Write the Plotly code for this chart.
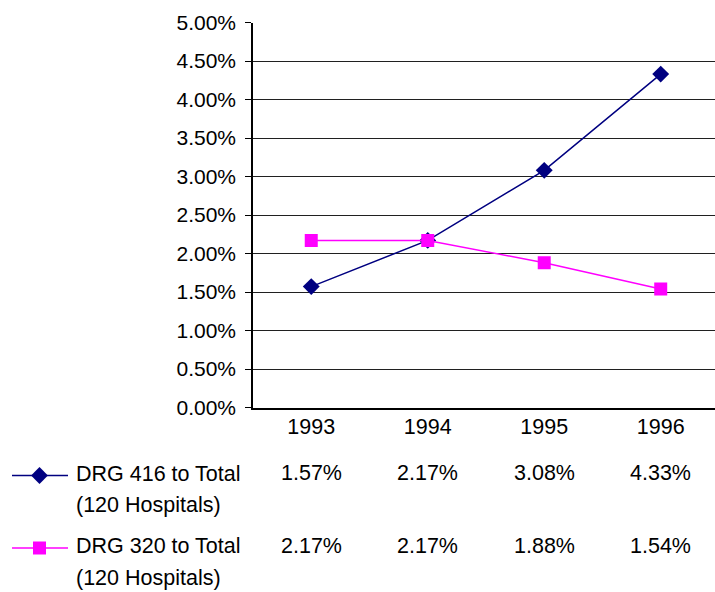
import plotly.graph_objects as go

# Chart data
years = ["1993", "1994", "1995", "1996"]
drg416 = [0.0157, 0.0217, 0.0308, 0.0433]
drg320 = [0.0217, 0.0217, 0.0188, 0.0154]
series_names = [["DRG 416 to Total", "(120 Hospitals)"],
                ["DRG 320 to Total", "(120 Hospitals)"]]
y_ticks = [0.0, 0.005, 0.01, 0.015, 0.02, 0.025, 0.03, 0.035, 0.04, 0.045, 0.05]

W, H = 715, 592
FONT = "Liberation Sans, Arial, sans-serif"
NAVY = "#000080"
MAGENTA = "#FF00FF"

def py(pixel_y):
    """Convert a pixel row (from the top) to paper y."""
    return 1 - pixel_y / H

xs = list(range(len(years)))

fig = go.Figure()

fig.add_trace(go.Scatter(
    x=xs, y=drg416, mode="lines+markers",
    line=dict(color=NAVY, width=1.5),
    marker=dict(symbol="diamond", size=13, color=NAVY),
    showlegend=False, hoverinfo="skip",
))
fig.add_trace(go.Scatter(
    x=xs, y=drg320, mode="lines+markers",
    line=dict(color=MAGENTA, width=1.5),
    marker=dict(symbol="square", size=13, color=MAGENTA),
    showlegend=False, hoverinfo="skip",
))

# Data-table rows below the plot: key + series name + values per year
row_y = [475.5, 548]
row_styles = [
    (NAVY, "diamond", drg416),
    (MAGENTA, "square", drg320),
]
annotations = []
shapes = []
for (color, symbol, values), name_lines, ry in zip(row_styles, series_names, row_y):
    shapes.append(dict(type="line", xref="paper", yref="paper",
                       x0=12 / W, x1=68 / W, y0=py(ry), y1=py(ry),
                       line=dict(color=color, width=1.5)))
    fig.add_trace(go.Scatter(
        x=[39.5], y=[ry], xaxis="x2", yaxis="y2", mode="markers",
        marker=dict(symbol=symbol, size=13, color=color),
        showlegend=False, hoverinfo="skip",
    ))
    for k, line_text in enumerate(name_lines):
        annotations.append(dict(
            text=line_text, xref="paper", yref="paper",
            x=74 / W, y=py(ry - 1.8 + 31.5 * k),
            xanchor="left", yanchor="middle", align="left", showarrow=False,
            font=dict(family=FONT, size=21.5, color="black"),
        ))
    for i, v in enumerate(values):
        annotations.append(dict(
            text=f"{v:.2%}", xref="x", yref="paper", x=i,
            y=py(ry - 2.5),
            xanchor="center", yanchor="middle", showarrow=False,
            font=dict(family=FONT, size=21.5, color="black"),
        ))

fig.update_layout(
    width=W, height=H,
    margin=dict(l=0, r=0, t=0, b=0, pad=0, autoexpand=False),
    paper_bgcolor="white", plot_bgcolor="rgba(0,0,0,0)",
    showlegend=False,
    xaxis=dict(
        domain=[253 / W, 1.0],
        range=[-0.5, 3.466],
        tickmode="array", tickvals=xs, ticktext=years,
        ticks="", showgrid=False, zeroline=False,
        showline=True, linecolor="black", linewidth=1.5,
        tickfont=dict(family=FONT, size=21.5, color="black"),
        ticklabelstandoff=-1,
        automargin=False,
        fixedrange=True,
    ),
    yaxis=dict(
        domain=[py(407.5), py(22.5)],
        range=[0, 0.05],
        tickmode="array", tickvals=y_ticks, tickformat=".2%",
        ticks="outside", ticklen=6, tickcolor="black", tickwidth=1,
        showgrid=True, gridcolor="#202020", gridwidth=1,
        zeroline=False,
        showline=True, linecolor="black", linewidth=1.5,
        tickfont=dict(family=FONT, size=21, color="black"),
        ticklabelstandoff=5,
        automargin=False,
        fixedrange=True,
    ),
    xaxis2=dict(domain=[0, 1], range=[0, W], visible=False, anchor="y2",
                automargin=False, fixedrange=True),
    yaxis2=dict(domain=[0, 1], range=[H, 0], visible=False, anchor="x2",
                automargin=False, fixedrange=True),
    annotations=annotations,
    shapes=shapes,
)

fig.write_html("out.html")
